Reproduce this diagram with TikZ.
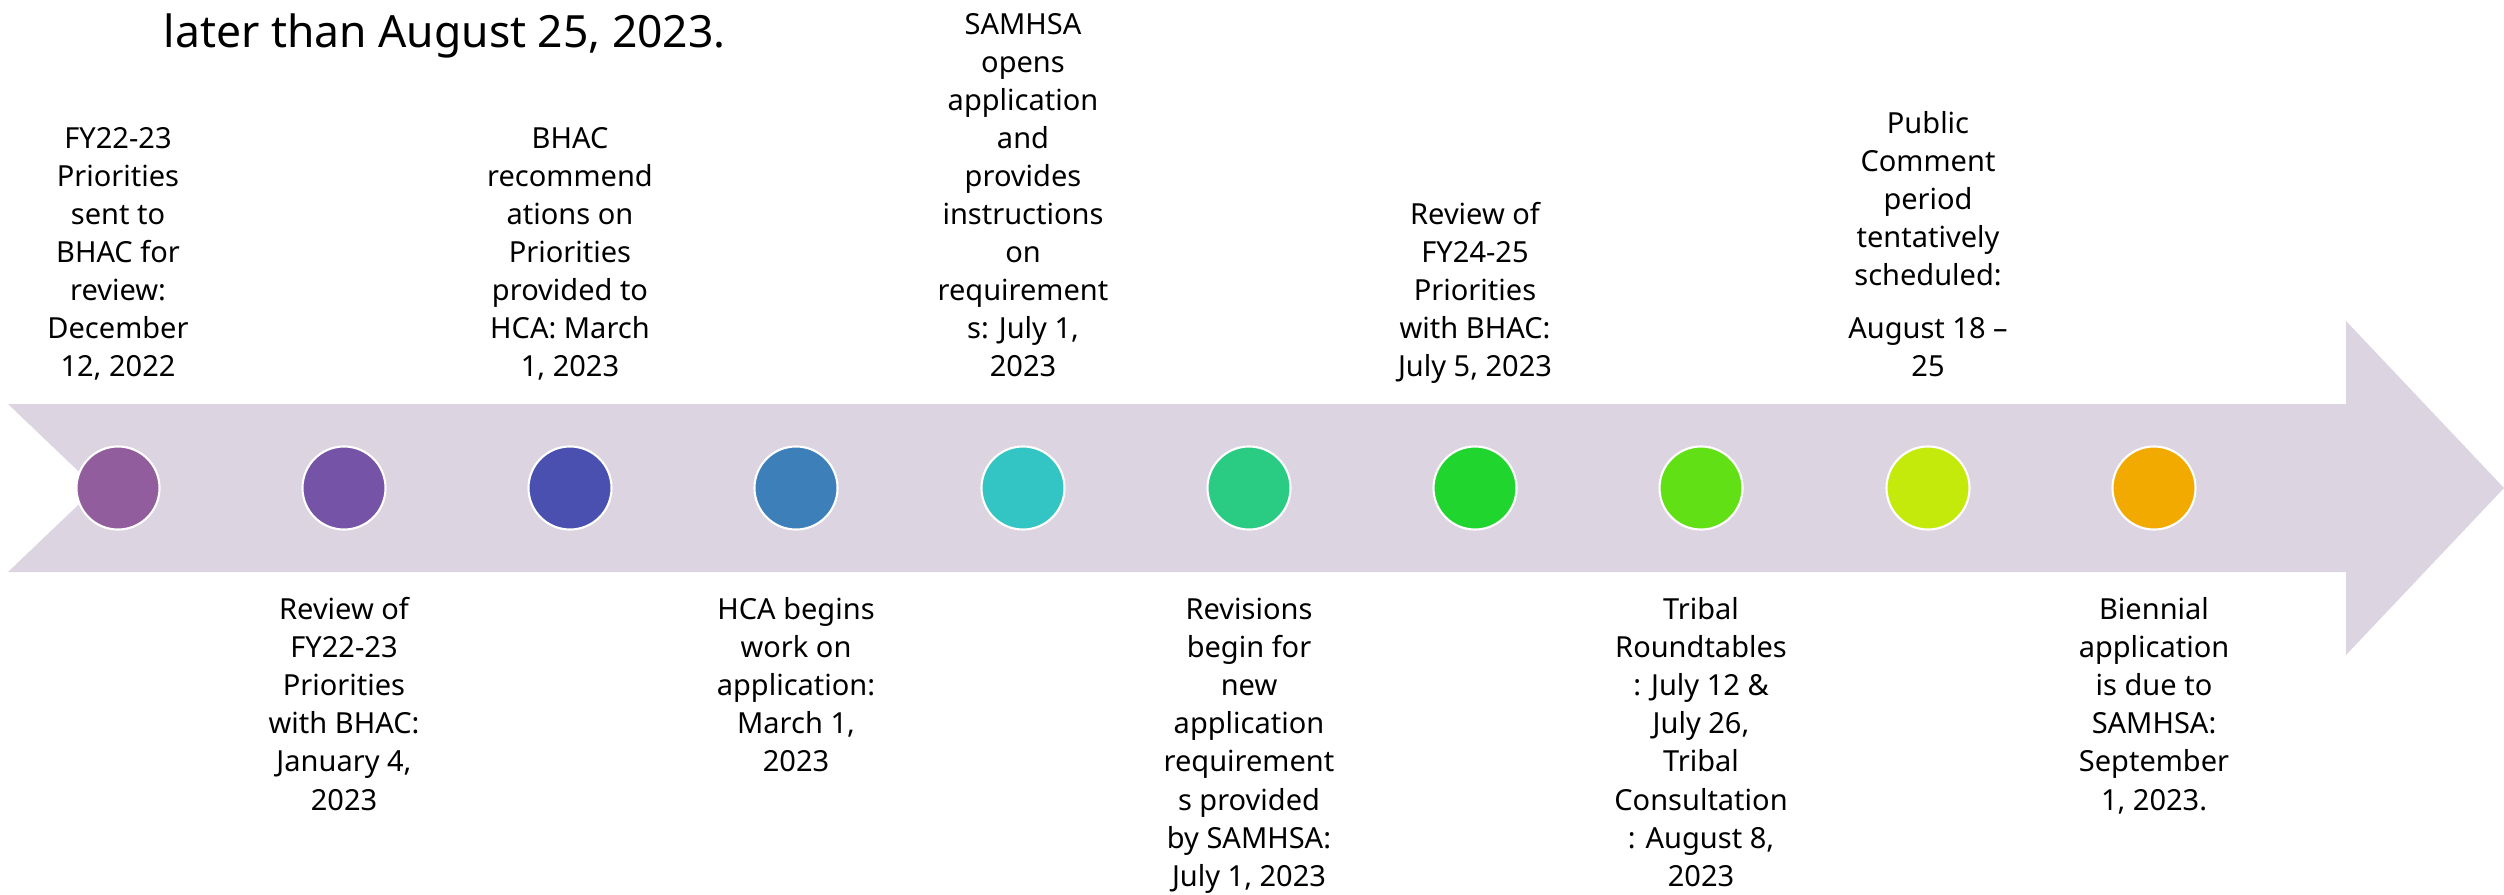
\documentclass[tikz,border=0pt]{standalone}
\usepackage{fontspec}
\setmainfont{Noto Sans}
\usetikzlibrary{positioning}

\definecolor{barcol}{RGB}{220,212,224}
\definecolor{dot1}{HTML}{925D9D}
\definecolor{dot2}{HTML}{7553A6}
\definecolor{dot3}{HTML}{4950B0}
\definecolor{dot4}{HTML}{3D80B9}
\definecolor{dot5}{HTML}{33C4C4}
\definecolor{dot6}{HTML}{2ACC84}
\definecolor{dot7}{HTML}{20D62E}
\definecolor{dot8}{HTML}{62E016}
\definecolor{dot9}{HTML}{C4EA0C}
\definecolor{dot10}{HTML}{F2AA00}

\begin{document}
\begin{tikzpicture}[x=0.01cm, y=-0.01cm,
  dot/.style={circle, draw=white, line width=0.6pt, minimum size=0.83cm, inner sep=0pt},
  lbl/.style={align=center, inner sep=0pt, font=\fontsize{8.25}{10.81}\selectfont}]
\useasboundingbox (0,0) rectangle (2504,894); %page frame
\fill[barcol] (8,404) -- (2346,404) -- (2346,321) -- (2504,488) -- (2346,655) -- (2346,572) -- (8,572) -- (96,488) -- cycle; %the big arrow
\node[anchor=base west, inner sep=0pt, font=\fontsize{12.63}{15}\selectfont] (head) at (163,48) {later than August 25, 2023.}; %cut off heading

% the dots on the arrow
\node[dot, fill=dot1] (d1) at (118,488) {};
\node[dot, fill=dot2] (d2) at (344,488) {};
\node[dot, fill=dot3] (d3) at (570,488) {};
\node[dot, fill=dot4] (d4) at (796,488) {};
\node[dot, fill=dot5] (d5) at (1023,488) {};
\node[dot, fill=dot6] (d6) at (1249,488) {};
\node[dot, fill=dot7] (d7) at (1475,488) {};
\node[dot, fill=dot8] (d8) at (1701,488) {};
\node[dot, fill=dot9] (d9) at (1928,488) {};
\node[dot, fill=dot10] (d10) at (2154,488) {};

% labels above
\node[lbl, above=0.57cm of d1] (t1) {FY22-23\\Priorities\\sent to\\BHAC for\\review:\\December\\12, 2022\strut};
\node[lbl, above=0.57cm of d3] (t3) {BHAC\\recommend\\ations on\\Priorities\\provided to\\HCA: March\\1, 2023\strut};
\node[lbl, above=0.57cm of d5] (t5) {SAMHSA\\opens\\application\\and\\provides\\instructions\\on\\requirement\\s: July 1,\\2023\strut};
\node[lbl, above=0.57cm of d7] (t7) {Review of\\FY24-25\\Priorities\\with BHAC:\\July 5, 2023\strut};
\node[lbl, above=0.57cm of d9] (t9) {Public\\Comment\\period\\tentatively\\scheduled:\\[4.3pt]August 18 –\\25\strut};

% labels below
\node[lbl, below=0.62cm of d2] (b2) {\strut Review of\\FY22-23\\Priorities\\with BHAC:\\January 4,\\2023};
\node[lbl, below=0.62cm of d4] (b4) {\strut HCA begins\\work on\\application:\\March 1,\\2023};
\node[lbl, below=0.62cm of d6] (b6) {\strut Revisions\\begin for\\new\\application\\requirement\\s provided\\by SAMHSA:\\July 1, 2023};
\node[lbl, below=0.62cm of d8] (b8) {\strut Tribal\\Roundtables\\: July 12 \&\\July 26,\\Tribal\\Consultation\\: August 8,\\2023};
\node[lbl, below=0.62cm of d10] (b10) {\strut Biennial\\application\\is due to\\SAMHSA:\\September\\1, 2023.};
\end{tikzpicture}
\end{document}
